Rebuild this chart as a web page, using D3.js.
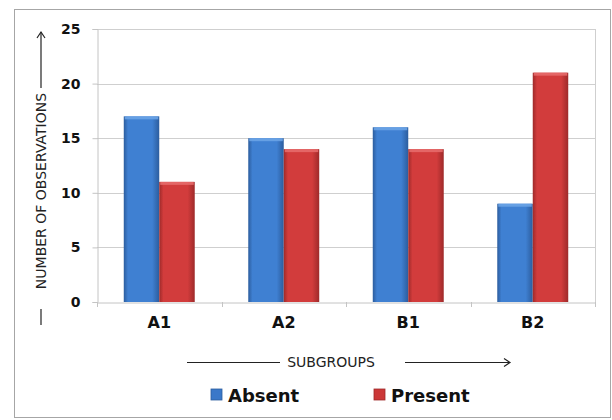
<!DOCTYPE html>
<html><head><meta charset="utf-8">
<script src="https://cdn.jsdelivr.net/npm/d3@7"></script>
<style>html,body{margin:0;padding:0;background:#fff;}svg{display:block;font-family:"DejaVu Sans",Verdana,sans-serif;}</style>
</head><body>
<svg id="c" width="612" height="420"></svg>
<script>
const categories = ["A1", "A2", "B1", "B2"];
const seriesNames = ["Absent", "Present"];
const absentValues = [17, 15, 16, 9];
const presentValues = [11, 14, 14, 21];
const yTicks = [0, 5, 10, 15, 20, 25];
const yTitle = "NUMBER OF OBSERVATIONS";
const xTitle = "SUBGROUPS";

const svg = d3.select("#c");
const W = 612, H = 420;
const m = {left: 97, right: 595, top: 29, bottom: 302};

// outer frame
svg.append("rect").attr("x", 14.5).attr("y", 9.5).attr("width", 596).attr("height", 408)
  .attr("fill", "#fff").attr("stroke", "#a6a6a6").attr("stroke-width", 1);

const defs = svg.append("defs");
function grad(id, edge, mid) {
  const g = defs.append("linearGradient").attr("id", id).attr("x1", 0).attr("x2", 1).attr("y1", 0).attr("y2", 0);
  g.append("stop").attr("offset", "0%").attr("stop-color", edge);
  g.append("stop").attr("offset", "12%").attr("stop-color", mid);
  g.append("stop").attr("offset", "80%").attr("stop-color", mid);
  g.append("stop").attr("offset", "100%").attr("stop-color", edge);
}
grad("gAbsent", "#2c5d9e", "#3f80d2");
grad("gPresent", "#9e2a2a", "#d23c3c");
const seriesColor = {Absent: "url(#gAbsent)", Present: "url(#gPresent)"};
const seriesTop = {Absent: "#6aa3e6", Present: "#e66a6a"};
const seriesSolid = {Absent: "#3a78c9", Present: "#cc3838"};

const x = d3.scaleBand().domain(categories).range([m.left, m.right]).padding(0);
const xs = d3.scaleBand().domain(seriesNames).range([0.215 * x.bandwidth(), 0.785 * x.bandwidth()]).padding(0);
const y = d3.scaleLinear().domain([0, 25]).range([m.bottom, m.top]);

// gridlines
svg.append("g").selectAll("line").data(yTicks.filter(d => d > 0)).join("line")
  .attr("x1", m.left).attr("x2", m.right)
  .attr("y1", d => Math.round(y(d)) + 0.5).attr("y2", d => Math.round(y(d)) + 0.5)
  .attr("stroke", "#cfcfcf");
// plot side lines
svg.append("line").attr("x1", m.right + 0.5).attr("x2", m.right + 0.5).attr("y1", m.top).attr("y2", m.bottom).attr("stroke", "#cfcfcf");

// y axis
const yAxis = svg.append("g").attr("transform", `translate(${m.left + 0.5},0)`)
  .call(d3.axisLeft(y).tickValues(yTicks).tickSize(5).tickPadding(12));
yAxis.select(".domain").attr("stroke", "#c4c4c4");
yAxis.selectAll(".tick line").attr("stroke", "#c4c4c4");
yAxis.selectAll(".tick text").attr("font-size", 14).attr("font-weight", "bold").attr("fill", "#111")
  .attr("font-family", "DejaVu Sans");

// x axis
const xAxis = svg.append("g").attr("transform", `translate(0,${m.bottom + 0.5})`)
  .call(d3.axisBottom(x).tickSize(0).tickPadding(22));
xAxis.select(".domain").attr("stroke", "#c4c4c4");
xAxis.selectAll(".tick text").attr("font-size", 16).attr("font-weight", "bold").attr("fill", "#111")
  .attr("font-family", "DejaVu Sans").attr("dy", "0.2em");
// category boundary ticks
svg.append("g").selectAll("line").data(categories.concat(["__end"])).join("line")
  .attr("x1", (d, i) => Math.round(i < categories.length ? x(d) : m.right) + 0.5)
  .attr("x2", (d, i) => Math.round(i < categories.length ? x(d) : m.right) + 0.5)
  .attr("y1", m.bottom).attr("y2", m.bottom + 5).attr("stroke", "#c4c4c4");

// bars
const rows = categories.map((c, i) => ({cat: c, Absent: absentValues[i], Present: presentValues[i]}));
const grp = svg.append("g").selectAll("g").data(rows).join("g")
  .attr("transform", d => `translate(${x(d.cat)},0)`);
const bars = grp.selectAll("g").data(d => seriesNames.map(s => ({s, v: d[s]}))).join("g");
bars.append("rect")
  .attr("x", d => xs(d.s)).attr("width", xs.bandwidth())
  .attr("y", d => y(d.v)).attr("height", d => y(0) - y(d.v))
  .attr("fill", d => seriesColor[d.s]);
bars.append("rect")
  .attr("x", d => xs(d.s) + 1).attr("width", xs.bandwidth() - 2)
  .attr("y", d => y(d.v)).attr("height", 3)
  .attr("fill", d => seriesTop[d.s]).attr("opacity", 0.9);

// y title
const ytx = 41;
svg.append("text").attr("transform", `translate(${ytx + 5},191) rotate(-90)`)
  .attr("text-anchor", "middle").attr("font-size", 14).attr("fill", "#222").text(yTitle);
svg.append("line").attr("x1", ytx).attr("x2", ytx).attr("y1", 309).attr("y2", 325).attr("stroke", "#222").attr("stroke-width", 1.2);
svg.append("line").attr("x1", ytx).attr("x2", ytx).attr("y1", 88).attr("y2", 32).attr("stroke", "#222").attr("stroke-width", 1.2);
svg.append("path").attr("d", `M${ytx - 4},38 L${ytx},32 L${ytx + 4},38`).attr("fill", "none").attr("stroke", "#222").attr("stroke-width", 1.2);

// x title
svg.append("text").attr("x", 331).attr("y", 367).attr("text-anchor", "middle")
  .attr("font-size", 14).attr("fill", "#222").text(xTitle);
svg.append("line").attr("x1", 187).attr("x2", 280).attr("y1", 362.5).attr("y2", 362.5).attr("stroke", "#222").attr("stroke-width", 1.2);
svg.append("line").attr("x1", 405).attr("x2", 510).attr("y1", 362.5).attr("y2", 362.5).attr("stroke", "#222").attr("stroke-width", 1.2);
svg.append("path").attr("d", "M504,358.5 L510,362.5 L504,366.5").attr("fill", "none").attr("stroke", "#222").attr("stroke-width", 1.2);

// legend
const legendX = [211, 374];
const leg = svg.append("g").selectAll("g").data(seriesNames).join("g")
  .attr("transform", (d, i) => `translate(${legendX[i]},389)`);
leg.append("rect").attr("width", 11).attr("height", 11).attr("fill", d => seriesSolid[d])
  .attr("stroke", d => d === "Absent" ? "#2c5d9e" : "#9e2a2a").attr("stroke-width", 0.8);
leg.append("text").attr("x", 17).attr("y", 13).attr("font-size", 18).attr("font-weight", "bold")
  .attr("fill", "#111").text(d => d);
</script>
</body></html>
